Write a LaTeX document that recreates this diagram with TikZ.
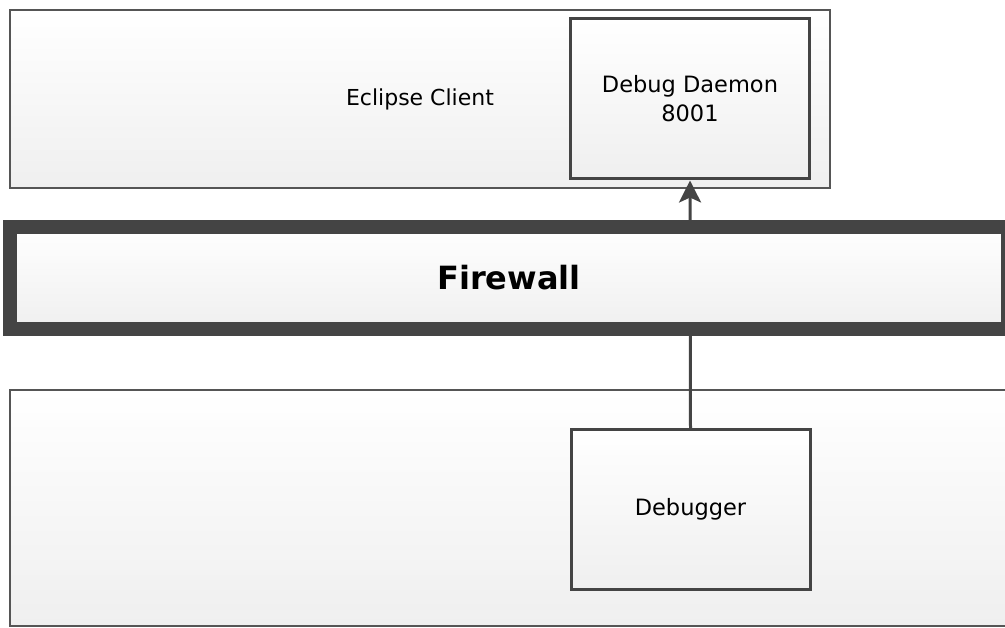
\documentclass[tikz,border=0pt]{standalone}
\usepackage{fontspec}
\setmainfont{DejaVu Sans}
\usetikzlibrary{arrows.meta}
\definecolor{edge}{HTML}{555555}
\definecolor{wall}{HTML}{444444}
\definecolor{shade}{HTML}{EFEFEF}
\begin{document}
\begin{tikzpicture}[x=1pt,y=-1pt,line join=miter,>={Stealth[length=22pt,width=22pt,inset=5pt]},
  box/.style={draw=edge,line width=2pt,top color=white,bottom color=shade,inner sep=0pt},
  comp/.style={box,draw=wall,line width=3pt,align=center,minimum width=239pt,font=\fontsize{22.5}{29}\selectfont},
  link/.style={draw=wall,line width=3pt,->}]
\useasboundingbox (0,0) rectangle (1005,628);
\clip (0,0) rectangle (1005,628);
% upper host
\node[box,minimum width=820pt,minimum height=178pt,font=\fontsize{22}{29}\selectfont] (client) at (420,99) {Eclipse Client};
\node[comp,minimum height=160pt] (daemon) at (690,99) {Debug Daemon\\8001};
% lower host
\node[box,minimum width=1002pt,minimum height=236pt] (lower) at (511,508) {};
\node[comp,minimum height=159pt] (dbg) at (690.5,509.5) {Debugger};
\draw[link] (dbg.north) -- (daemon.south);
% firewall on top of the link
\node[box,draw=wall,line width=14pt,minimum width=998pt,minimum height=102pt,font=\bfseries\fontsize{32}{38}\selectfont] (fw) at (509,278) {Firewall};
\end{tikzpicture}
\end{document}
